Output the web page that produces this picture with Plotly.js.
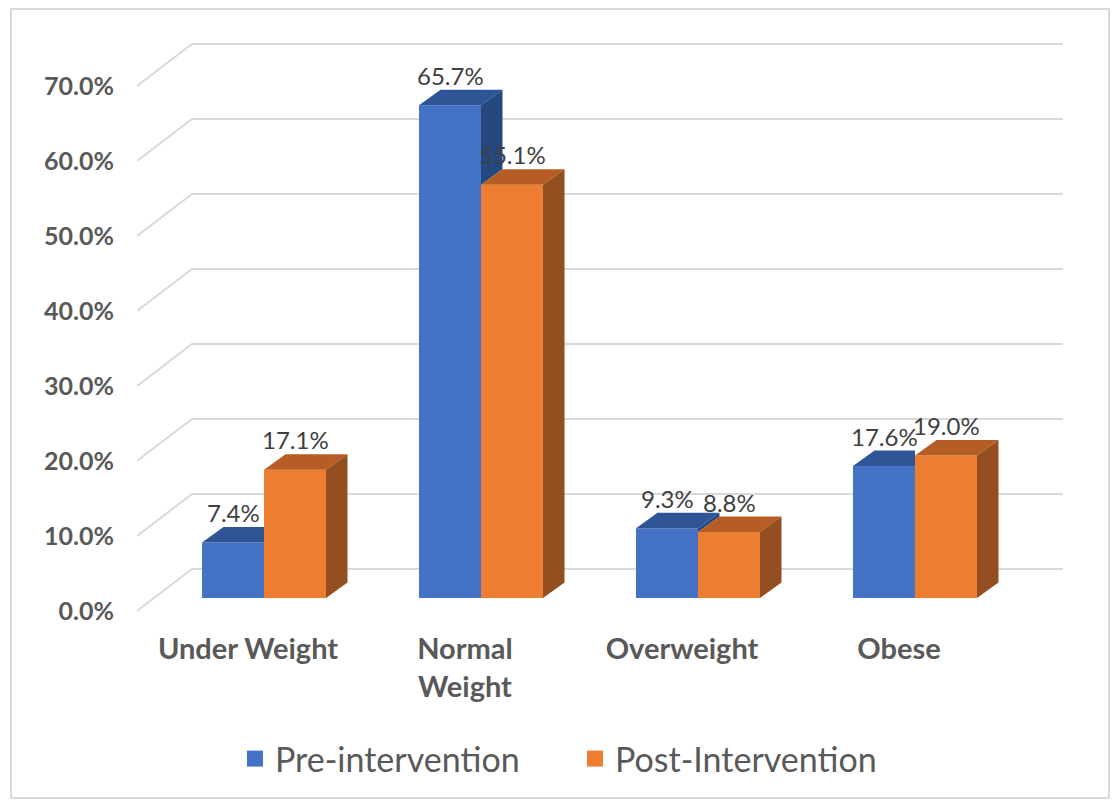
<!DOCTYPE html>
<html>
<head>
<meta charset="utf-8">
<script src="https://cdn.plot.ly/plotly-3.0.1.min.js"></script>
<style>
  html, body { margin: 0; padding: 0; background: #ffffff; }
  #chart { position: absolute; left: 0; top: 0; width: 1115px; height: 803px; }
  #frame { position: absolute; left: 10px; top: 8px; width: 1100px; height: 791px;
           border: 2px solid #d9d9d9; pointer-events: none; box-sizing: border-box; }
</style>
</head>
<body>
<div id="chart"></div>
<div id="frame"></div>
<script>
// ---- data ----
const categories = ['Under Weight', 'Normal<br>Weight', 'Overweight', 'Obese'];
const seriesNames = ['Pre-intervention', 'Post-Intervention'];
const preValues = [7.4, 65.7, 9.3, 17.6];
const postValues = [17.1, 55.1, 8.8, 19.0];
const yTickValues = [0, 10, 20, 30, 40, 50, 60, 70];
const yTickLabels = ['0.0%', '10.0%', '20.0%', '30.0%', '40.0%', '50.0%', '60.0%', '70.0%'];

// ---- style / geometry (pixel scale of the layout) ----
const W = 1115, H = 803;
const M = { l: 137, r: 52, t: 40, b: 188 };
const PX_PER_CAT = 217;          // px per category unit
const PX_PER_PCT = 7.5;          // px per 1 %
const plotW = W - M.l - M.r, plotH = H - M.t - M.b;
const xMin = -(264 - M.l) / PX_PER_CAT;
const xMax = xMin + plotW / PX_PER_CAT;
const yMin = -(M.t + plotH - 598) / PX_PER_PCT;
const yMax = yMin + plotH / PX_PER_PCT;

const bargap = 1 - 2 * 62 / PX_PER_CAT;
const BW = (1 - bargap) / 2;
const DX = 21.5 / PX_PER_CAT, DY = 15.5 / PX_PER_PCT;        // bar depth
const FRONT_DY = -13 / PX_PER_PCT;                            // front wall offset
const BACK_DX = 55 / PX_PER_CAT, BACK_DY = 29 / PX_PER_PCT;   // back wall offset

const C = {
  blue: '#4472C4', blueTop: '#2F5597', blueSide: '#25487F',
  orange: '#ED7D31', orangeTop: '#B55D24', orangeSide: '#944F20',
  grid: '#d9d9d9', axisText: '#595959', label: '#404040'
};

const xIdx = categories.map((_, i) => i);

// ---- faces of the 3D boxes ----
function poly(arr, pts) {
  pts.forEach(p => { arr.x.push(p[0]); arr.y.push(p[1]); });
  arr.x.push(pts[0][0]); arr.y.push(pts[0][1]);
  arr.x.push(null); arr.y.push(null);
}
const blueTop = { x: [], y: [] }, blueSide = { x: [], y: [] };
const orangeTop = { x: [], y: [] }, orangeSide = { x: [], y: [] };
xIdx.forEach(i => {
  const b = preValues[i], o = postValues[i];
  const bl = i - BW, br = i, ol = i, orr = i + BW;
  if (b > o) {
    poly(blueTop, [[bl, b], [br, b], [br + DX, b + DY], [bl + DX, b + DY]]);
    poly(blueSide, [[br, o], [br, b], [br + DX, b + DY], [br + DX, o + DY]]);
  } else {
    poly(blueTop, [[bl, b], [br, b], [br, b + DY], [bl + DX, b + DY]]);
  }
  poly(orangeTop, [[ol, o], [orr, o], [orr + DX, o + DY], [ol + DX, o + DY]]);
  poly(orangeSide, [[orr, 0], [orr, o], [orr + DX, o + DY], [orr + DX, DY]]);
});
function face(d, color) {
  return { type: 'scatter', mode: 'lines', x: d.x, y: d.y, fill: 'toself',
           fillcolor: color, line: { width: 0, color: color }, hoverinfo: 'skip',
           showlegend: false, connectgaps: false };
}
function legendEntry(name, color) {
  return { type: 'scatter', mode: 'markers', x: [null], y: [null], name: name,
           marker: { symbol: 'square', size: 16, color: color }, hoverinfo: 'skip' };
}

const traces = [
  { type: 'bar', name: seriesNames[0], x: xIdx, y: preValues, showlegend: false,
    marker: { color: C.blue, line: { width: 0 } }, hovertemplate: '%{y:.1f}%<extra></extra>' },
  { type: 'bar', name: seriesNames[1], x: xIdx, y: postValues, showlegend: false,
    marker: { color: C.orange, line: { width: 0 } }, hovertemplate: '%{y:.1f}%<extra></extra>' },
  face(blueTop, C.blueTop),
  face(blueSide, C.blueSide),
  face(orangeTop, C.orangeTop),
  face(orangeSide, C.orangeSide),
  legendEntry(seriesNames[0], C.blue),
  legendEntry(seriesNames[1], C.orange)
];

// ---- walls: side-wall diagonals + back-wall grid ----
const shapes = yTickValues.map(v => ({
  type: 'path', xref: 'x', yref: 'y', layer: 'below',
  path: `M${xMin},${v + FRONT_DY} L${xMin + BACK_DX},${v + BACK_DY} L${xMax},${v + BACK_DY}`,
  line: { color: C.grid, width: 2 }
}));

// ---- data labels ----
const annotations = [];
xIdx.forEach(i => {
  [[preValues[i], i - BW / 2], [postValues[i], i + BW / 2]].forEach(([v, xc]) => {
    annotations.push({ x: xc, y: v + DY, xref: 'x', yref: 'y', text: v.toFixed(1) + '%',
      showarrow: false, yanchor: 'bottom', xanchor: 'center', yshift: -2,
      font: { family: 'Lato, sans-serif', size: 24, color: C.label } });
  });
});

const layout = {
  width: W, height: H,
  margin: M,
  paper_bgcolor: '#ffffff', plot_bgcolor: 'rgba(0,0,0,0)',
  barmode: 'group', bargap: bargap, bargroupgap: 0,
  showlegend: true,
  legend: {
    orientation: 'h', xref: 'paper', yref: 'container',
    x: (235 - M.l) / plotW, xanchor: 'left', y: 1 - 759 / H, yanchor: 'middle',
    font: { family: 'Lato, sans-serif', size: 34, color: C.axisText },
    entrywidth: 295, entrywidthmode: 'pixels', traceorder: 'normal', itemsizing: 'trace'
  },
  xaxis: {
    range: [xMin, xMax], tickmode: 'array', tickvals: xIdx, ticktext: categories,
    showgrid: false, zeroline: false, showline: false, ticks: '',
    ticklabelshift: -16, ticklabelstandoff: 14,
    tickfont: { family: 'Lato, sans-serif', size: 29, color: C.axisText, weight: 'bold' },
    fixedrange: true
  },
  yaxis: {
    range: [yMin, yMax], tickmode: 'array', tickvals: yTickValues, ticktext: yTickLabels,
    showgrid: false, zeroline: false, showline: false, ticks: '',
    ticklabelshift: 13, ticklabelstandoff: 22,
    tickfont: { family: 'Lato, sans-serif', size: 25, color: C.axisText, weight: 'bold' },
    fixedrange: true
  },
  shapes: shapes,
  annotations: annotations
};

Plotly.newPlot('chart', traces, layout, { displayModeBar: false });
</script>
</body>
</html>
